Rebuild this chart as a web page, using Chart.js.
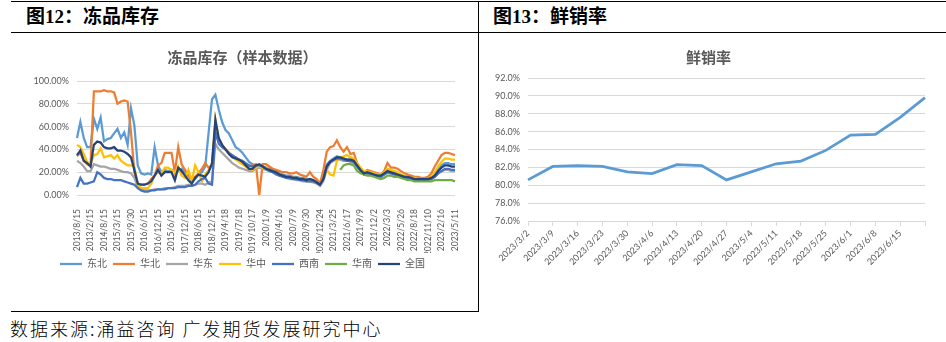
<!DOCTYPE html>
<html lang="zh-CN">
<head>
<meta charset="utf-8">
<title>冻品库存 / 鲜销率</title>
<script src="https://cdn.jsdelivr.net/npm/chart.js@4.4.1/dist/chart.umd.min.js"></script>
<style>
  html, body { margin: 0; padding: 0; background: #fff; }
  body { position: relative; width: 946px; height: 342px; overflow: hidden; font-family: "Noto Sans CJK SC", sans-serif; }
  .rule { position: absolute; background: #000; }
  .head { position: absolute; top: 6px; line-height: 22px; font-size: 19px; font-weight: bold; font-family: "Liberation Serif", "Noto Sans CJK SC", serif; color: #000; white-space: nowrap; }
  #source { position: absolute; left: 10px; top: 318px; line-height: 20px; font-size: 18px; font-weight: 300; letter-spacing: 2px; color: #000; white-space: nowrap; }
  canvas { position: absolute; top: 35px; }
</style>
</head>
<body>
<div class="rule" style="left:11px;top:1px;width:935px;height:1px"></div>
<div class="rule" style="left:11px;top:32px;width:935px;height:1px"></div>
<div class="rule" style="left:478px;top:1px;width:1px;height:311px"></div>
<div class="rule" style="left:11px;top:311px;width:468px;height:1px"></div>
<div class="head" style="left:26px">图12：冻品库存</div>
<div class="head" style="left:493px">图13：鲜销率</div>
<canvas id="stockChart" width="478" height="275" style="left:0"></canvas>
<canvas id="saleChart" width="467" height="275" style="left:479px"></canvas>
<div id="source">数据来源:涌益咨询 广发期货发展研究中心</div>
<script>
Chart.defaults.font.family = 'Lato, "Noto Sans CJK SC", sans-serif';
Chart.defaults.color = '#595959';

// 冻品库存 (样本数据), %, sampled 4 points per labelled date
const stockTickDates = [
  '2013/8/15', '2013/2/15', '2014/8/15', '2015/3/15', '2015/9/30', '2016/6/15', '2016/12/15', '2015/6/15',
  '2017/12/15', '2018/6/15', '2018/12/15', '2019/4/18', '2019/7/18', '2019/10/17', '2020/1/9', '2020/4/16',
  '2020/7/9', '2020/9/30', '2020/12/24', '2021/3/25', '2021/6/17', '2021/9/9', '2021/12/2', '2022/3/3',
  '2022/5/26', '2022/8/18', '2022/11/10', '2023/2/16', '2023/5/11'
];
const regions = ['东北', '华北', '华东', '华中', '西南', '华南', '全国'];
const regionColors = ['#5B9BD5', '#ED7D31', '#A5A5A5', '#FFC000', '#4472C4', '#70AD47', '#264478'];

const dongbei = [
  50, 64, 50, 42, 42, 67, 58, 68, 47, 49, 50, 54, 58, 50, 55, 44, 76, 61, 26, 19, 18, 19, 18, 42, 26, 20, 22, 21, 22,
  22, 21, 23, 20, 17, 12, 14, 18, 20, 25,
  55, 84, 88, 75, 64, 57, 54, 48, 42, 40, 37, 33, 29, 27, 26, 26, 25,
  24, 23, 22, 21, 19, 18, 17, 17, 16, 16, 15, 15, 14, 14, 13, 12, 9, 16, 27, 30, 32, 34, 33, 32, 31, 31, 30, 26, 22, 19,
  20, 19, 18, 18, 17, 19, 21, 20, 19, 18, 17, 16, 16, 15, 14, 14, 14, 14, 14, 15, 18, 22, 26, 28, 28, 27, 27
];
const huabei = [
  34, 37, 30, 27, 26, 91, 91, 91, 92, 91, 91, 90, 80, 82, 83, 82, 55, 20, 10, 9, 9, 10, 14, 17, 26, 28, 37, 37, 37,
  20, 42, 27, 22, 17, 15, 16, 19, 23, 28,
  24, 26, 60, 48, 44, 40, 37, 34, 33, 31, 29, 27, 25, 26, 27, 0, 27,
  27, 25, 23, 22, 21, 20, 20, 19, 19, 20, 18, 17, 16, 20, 16, 14, 10, 22, 38, 42, 43, 48, 42, 38, 42, 36, 37, 28, 23, 20,
  22, 21, 20, 19, 18, 21, 28, 24, 24, 23, 21, 19, 18, 17, 16, 16, 15, 15, 16, 19, 25, 30, 35, 37, 37, 36, 35
];
const huadong = [
  30, 28, 25, 21, 21, 27, 26, 25, 25, 24, 23, 23, 22, 21, 20, 20, 19, 15, 7, 5, 4, 4, 4, 5, 5, 5, 6, 6, 6,
  7, 8, 8, 8, 9, 8, 9, 10, 10, 9,
  11, 12, 45, 40, 37, 34, 31, 28, 26, 24, 23, 22, 21, 21, 23, 24, 23,
  22, 21, 20, 19, 17, 16, 15, 14, 14, 13, 13, 12, 12, 12, 11, 10, 8, 12, 22, 28, 30, 31, 31, 30, 30, 29, 28, 25, 21, 18,
  18, 18, 17, 16, 16, 18, 20, 19, 18, 17, 16, 15, 15, 14, 13, 13, 13, 13, 13, 14, 16, 19, 21, 22, 22, 21, 21
];
const huazhong = [
  44, 42, 36, 29, 27, 35, 36, 41, 33, 34, 35, 32, 35, 30, 28, 26, 26, 25, 9, 6, 6, 6, 10, 17, 20, 19, 24, 24, 22,
  20, 25, 17, 15, 22, 12, 26, 20, 12, 18,
  22, 25, 66, 48, 43, 40, 37, 34, 31, 29, 27, 25, 23, 22, 24, 25, 24,
  24, 22, 21, 20, 18, 17, 16, 16, 15, 15, 14, 14, 13, 13, 12, 11, 9, 14, 22, 18, 17, 30, 33, 34, 35, 33, 32, 28, 24, 21,
  21, 20, 19, 18, 18, 20, 23, 22, 21, 20, 18, 17, 16, 15, 15, 14, 14, 14, 14, 16, 20, 25, 29, 32, 32, 31, 31
];
const xinan = [
  7, 15, 10, 10, 11, 12, 20, 18, 15, 14, 14, 13, 13, 13, 12, 11, 10, 9, 6, 4, 3, 3, 4, 4, 5, 5, 5, 6, 6,
  6, 7, 7, 7, 8, 8, 9, 12, 14, 15,
  10, 9, 55, 45, 42, 40, 37, 35, 33, 31, 30, 28, 26, 25, 26, 26, 25,
  23, 21, 20, 18, 17, 16, 15, 15, 14, 14, 13, 13, 12, 12, 12, 11, 9, 14, 25, 29, 31, 32, 32, 31, 30, 30, 29, 25, 21, 18,
  19, 18, 17, 17, 16, 18, 20, 19, 18, 17, 16, 15, 15, 14, 14, 13, 13, 13, 13, 14, 16, 19, 21, 23, 23, 22, 22
];
const huananStart = 78; // 华南 has no data before this sample
const huanan = [
  22, 26, 27, 27, 26, 21, 19, 18,
  17, 17, 16, 15, 14, 15, 17, 17, 16, 16, 15, 14, 13, 13, 12, 12, 12, 12, 12, 12, 13, 13, 13, 13, 13, 13, 12
];
const quanguo = [
  35, 39, 30, 28, 25, 44, 47, 46, 42, 41, 41, 42, 39, 39, 38, 36, 33, 22, 10, 9, 9, 10, 12, 17, 22, 17, 20, 20, 20,
  13, 24, 21, 17, 13, 10, 15, 18, 17, 16,
  20, 28, 66, 50, 44, 40, 36, 33, 32, 31, 29, 26, 23, 23, 26, 27, 25,
  23, 22, 21, 20, 18, 17, 16, 16, 15, 15, 14, 14, 13, 14, 13, 11, 9, 14, 25, 29, 31, 33, 33, 32, 31, 31, 30, 26, 22, 19,
  20, 19, 18, 17, 17, 19, 21, 20, 19, 18, 17, 16, 16, 15, 14, 14, 14, 14, 14, 15, 17, 21, 24, 26, 26, 25, 25
];

// 鲜销率, %
const saleDates = [
  '2023/3/2', '2023/3/9', '2023/3/16', '2023/3/23', '2023/3/30', '2023/4/6', '2023/4/13', '2023/4/20', '2023/4/27',
  '2023/5/4', '2023/5/11', '2023/5/18', '2023/5/25', '2023/6/1', '2023/6/8', '2023/6/15', '2023/6/22'
];
const saleRate = [80.6, 82.1, 82.2, 82.1, 81.5, 81.3, 82.3, 82.2, 80.6, 81.5, 82.4, 82.7, 83.9, 85.6, 85.7, 87.6, 89.8];

const stockLabels = dongbei.map((v, i) => (i % 4 === 0 ? stockTickDates[i / 4] : ''));
const stockSeries = [dongbei, huabei, huadong, huazhong, xinan,
  Array(huananStart).fill(null).concat(huanan), quanguo];

const titleFont = { size: 15, weight: 'bold', family: '"Noto Sans CJK SC", sans-serif' };

new Chart(document.getElementById('stockChart'), {
  type: 'line',
  data: {
    labels: stockLabels,
    datasets: regions.map((name, i) => ({
      label: name,
      data: stockSeries[i],
      borderColor: regionColors[i],
      backgroundColor: regionColors[i],
      borderWidth: 2.25,
      pointRadius: 0,
      tension: 0,
      order: regions.length - 1 - i // 全国 on top, like the Excel original
    }))
  },
  options: {
    responsive: false,
    animation: false,
    events: [],
    layout: { padding: { left: 30, right: 23, top: 0, bottom: 31 } },
    plugins: {
      title: { display: true, text: '冻品库存（样本数据）', color: '#595959', font: titleFont, padding: { top: 13, bottom: 15 } },
      legend: {
        position: 'bottom',
        reverse: true,
        labels: {
          usePointStyle: true, pointStyle: 'line', pointStyleWidth: 22, boxHeight: 10,
          padding: 6, color: '#595959', font: { size: 10 }
        }
      },
      tooltip: { enabled: false }
    },
    scales: {
      x: {
        grid: { display: false },
        border: { display: false },
        ticks: { autoSkip: false, minRotation: 90, maxRotation: 90, padding: 6, font: { size: 8.5 } },
        afterFit: (s) => { s.height = 58; }
      },
      y: {
        min: 0, max: 100,
        grid: { color: '#D9D9D9', drawTicks: false },
        border: { display: false },
        ticks: { stepSize: 10, padding: 8, font: { size: 9 }, callback: (v) => v.toFixed(2) + '%' },
        afterFit: (s) => { s.width = 47; }
      }
    }
  }
});

new Chart(document.getElementById('saleChart'), {
  type: 'line',
  data: {
    labels: saleDates,
    datasets: [{
      label: '鲜销率',
      data: saleRate,
      borderColor: '#5B9BD5',
      backgroundColor: '#5B9BD5',
      borderWidth: 2.75,
      pointRadius: 0,
      tension: 0
    }]
  },
  options: {
    responsive: false,
    animation: false,
    events: [],
    layout: { padding: { left: 13, right: 21, top: 0, bottom: 29 } },
    plugins: {
      title: { display: true, text: '鲜销率', color: '#595959', font: titleFont, padding: { top: 13, bottom: 12 } },
      legend: { display: false },
      tooltip: { enabled: false }
    },
    scales: {
      x: {
        grid: { drawOnChartArea: false, drawTicks: true, tickLength: 5, color: '#D9D9D9' },
        border: { display: false },
        ticks: {
          autoSkip: false, minRotation: 45, maxRotation: 45, padding: 2, font: { size: 9 },
          // the last week has no label in the original
          callback: (v, i) => (i === saleDates.length - 1 ? '' : saleDates[i])
        },
        afterFit: (s) => { s.height = 60; }
      },
      y: {
        min: 76, max: 92,
        grid: { color: '#D9D9D9', drawTicks: false },
        border: { display: false },
        ticks: { stepSize: 2, padding: 8, font: { size: 9 }, callback: (v) => v.toFixed(1) + '%' },
        afterFit: (s) => { s.width = 36; }
      }
    }
  }
});
</script>
</body>
</html>
